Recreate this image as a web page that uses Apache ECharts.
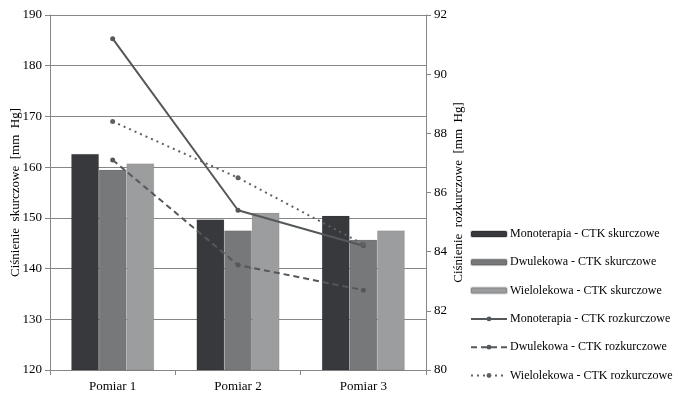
<!DOCTYPE html>
<html><head><meta charset="utf-8">
<script src="https://cdn.jsdelivr.net/npm/echarts@6/dist/echarts.min.js"></script>
<style>html,body{margin:0;padding:0;background:#fff;}#c{width:678px;height:399px;}</style>
</head><body><div id="c"></div>
<script>
const categories = ['Pomiar 1', 'Pomiar 2', 'Pomiar 3'];
const monoSkurcz = [162.6, 149.7, 150.4];
const dwuSkurcz = [159.5, 147.5, 145.7];
const wieloSkurcz = [160.7, 151.0, 147.5];
const monoRozkurcz = [91.2, 85.4, 84.2];
const dwuRozkurcz = [87.1, 83.55, 82.7];
const wieloRozkurcz = [88.4, 86.5, 84.25];
const seriesNames = [
  'Monoterapia - CTK skurczowe',
  'Dwulekowa - CTK skurczowe',
  'Wielolekowa - CTK skurczowe',
  'Monoterapia - CTK rozkurczowe',
  'Dwulekowa - CTK rozkurczowe',
  'Wielolekowa - CTK rozkurczowe'
];

const font = 'Liberation Serif';
const axisGray = '#868686';
const chart = echarts.init(document.getElementById('c'), null, {renderer: 'canvas'});

function bar(name, data, color) {
  return {
    name, type: 'bar', data, yAxisIndex: 0,
    barWidth: 27.6, barGap: '0%',
    itemStyle: {color, borderColor: 'rgba(0,0,0,0.15)', borderWidth: 0.5},
    z: 2
  };
}
function line(name, data, color, type) {
  return {
    name, type: 'line', data, yAxisIndex: 1,
    symbol: 'circle', symbolSize: 5,
    lineStyle: {color, width: 2, type},
    itemStyle: {color},
    z: 5
  };
}

chart.setOption({
  animation: false,
  textStyle: {fontFamily: font},
  grid: {left: 50, right: 252, top: 15, bottom: 29, containLabel: false, outerBoundsMode: 'none'},
  legend: {
    orient: 'vertical', left: 465, top: 223,
    itemWidth: 36, itemHeight: 6, itemGap: 16.3,
    textStyle: {fontFamily: font, fontSize: 12, color: '#000', padding: [0, 0, 0, -2]},
    data: seriesNames
  },
  xAxis: {
    type: 'category', data: categories,
    axisLine: {lineStyle: {color: axisGray}},
    axisTick: {show: true, length: 5, inside: false, lineStyle: {color: axisGray}},
    axisLabel: {fontFamily: font, fontSize: 13, color: '#000', margin: 10}
  },
  yAxis: [
    {
      type: 'value', min: 120, max: 190, interval: 10,
      name: 'Ciśnienie  skurczowe  [mm  Hg]', nameLocation: 'middle', nameGap: 28, nameRotate: 90,
      nameMoveOverlap: false,
      nameTextStyle: {fontFamily: font, fontSize: 13, color: '#000'},
      axisLine: {show: true, lineStyle: {color: axisGray}},
      axisTick: {show: true, length: 5, lineStyle: {color: axisGray}},
      axisLabel: {fontFamily: font, fontSize: 13, color: '#000', margin: 8},
      splitLine: {show: true, lineStyle: {color: axisGray, width: 1}}
    },
    {
      type: 'value', min: 80, max: 92, interval: 2, position: 'right',
      name: 'Ciśnienie  rozkurczowe  [mm  Hg]', nameLocation: 'middle', nameGap: 26, nameRotate: 90,
      nameMoveOverlap: false,
      nameTextStyle: {fontFamily: font, fontSize: 13, color: '#000'},
      axisLine: {show: true, lineStyle: {color: axisGray}},
      axisTick: {show: true, length: 5, lineStyle: {color: axisGray}},
      axisLabel: {fontFamily: font, fontSize: 13, color: '#000', margin: 8},
      splitLine: {show: false}
    }
  ],
  series: [
    bar(seriesNames[0], monoSkurcz, '#37393c'),
    bar(seriesNames[1], dwuSkurcz, '#76787a'),
    bar(seriesNames[2], wieloSkurcz, '#9b9d9e'),
    line(seriesNames[3], monoRozkurcz, '#55585b', 'solid'),
    line(seriesNames[4], dwuRozkurcz, '#55585b', [6, 4]),
    line(seriesNames[5], wieloRozkurcz, '#5f6265', [2, 4])
  ]
});
</script></body></html>
